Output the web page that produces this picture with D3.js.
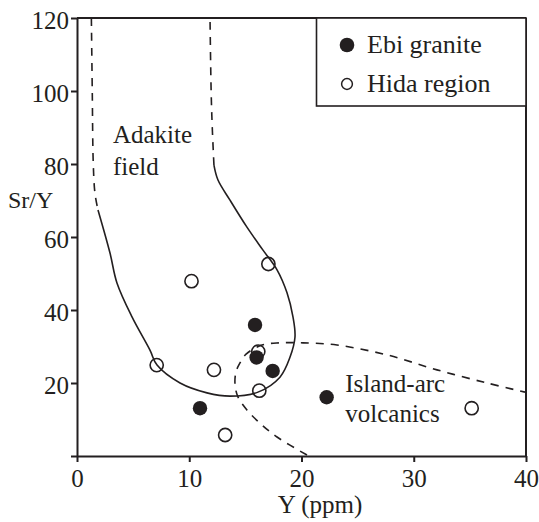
<!DOCTYPE html>
<html>
<head>
<meta charset="utf-8">
<script src="https://cdn.jsdelivr.net/npm/d3@7"></script>
<style>
  html, body { margin: 0; padding: 0; background: #fff; }
  svg { display: block; }
</style>
</head>
<body>
<svg id="chart" width="539" height="522"></svg>
<script>
// ---- data ----
const xTicks = [0, 10, 20, 30, 40];
const yTicks = [0, 20, 40, 60, 80, 100, 120];

const ebiGraniteX = [10.96, 15.86, 16.0, 17.43, 22.24];
const ebiGraniteY = [13.1, 35.9, 27.0, 23.3, 16.1];

const hidaRegionX = [7.1, 10.2, 12.2, 13.2, 17.05, 16.15, 16.24, 35.16];
const hidaRegionY = [24.9, 47.9, 23.6, 5.75, 52.6, 28.6, 17.9, 13.1];

// Adakite field boundary
const adakiteLeftDashX = [1.28, 1.36, 1.45, 1.6, 1.87];
const adakiteLeftDashY = [120, 100, 80, 72, 67.4];
const adakiteSolidX = [1.87, 2.94, 3.56, 4.9, 6.5, 7.13, 9.18, 11.58, 13.63, 16.12, 18.08, 18.98, 19.42, 19.24, 18.71, 17.82, 16.57, 15.14, 13.63, 12.56, 12.2];
const adakiteSolidY = [67.4, 55.6, 47.4, 38.1, 29.0, 24.9, 20.0, 17.3, 16.4, 17.5, 21.6, 27.1, 32.6, 38.1, 44.7, 51.0, 56.4, 62.7, 70.1, 75.6, 79.7];
const adakiteRightDashX = [12.2, 12.05, 11.95, 11.85];
const adakiteRightDashY = [79.7, 90, 100, 120];

// Island-arc volcanics boundary
const arcX = [20.49, 17.82, 16.3, 15.14, 14.34, 14.08, 14.16, 14.52, 15.06, 16.48, 18.08, 20.13, 23.16, 27.62, 32.07, 36.53, 39.91];
const arcY = [0.27, 5.2, 9.0, 12.6, 16.2, 19.5, 23.0, 25.5, 27.9, 30.4, 31.0, 31.0, 30.4, 27.7, 23.6, 20.0, 17.5];

const legendLabels = ["Ebi granite", "Hida region"];
const xTitle = "Y (ppm)";
const yTitle = "Sr/Y";
const fieldLabels = [["Adakite", "field"], ["Island-arc", "volcanics"]];
const fieldLabelPos = [[3.2, 85.8, 77.0], [23.9, 17.5, 9.3]];

// ---- drawing ----
const svg = d3.select("#chart");
const ink = "#231f20";
const serif = '"Liberation Serif", "Times New Roman", Times, serif';
const mLeft = 77, mRight = 526, mTop = 18, mBottom = 456;
const x = d3.scaleLinear().domain([0, 40]).range([mLeft, mRight]);
const y = d3.scaleLinear().domain([0, 120]).range([mBottom, mTop]);

const zip = (xs, ys) => xs.map((v, i) => [v, ys[i]]);
const line = d3.line().x(d => x(d[0])).y(d => y(d[1])).curve(d3.curveCatmullRom.alpha(0.5));

function txt(g, tx, ty, s, size, anchor) {
  return g.append("text").attr("x", tx).attr("y", ty)
    .attr("font-family", serif).style("font-family", serif)
    .attr("font-size", size).attr("fill", ink)
    .attr("text-anchor", anchor || "start").text(s);
}

// curves
const dash = "8,7";
svg.append("path").attr("d", line(zip(adakiteLeftDashX, adakiteLeftDashY)))
  .attr("fill", "none").attr("stroke", ink).attr("stroke-width", 1.6).attr("stroke-dasharray", dash);
svg.append("path").attr("d", line(zip(adakiteSolidX, adakiteSolidY)))
  .attr("fill", "none").attr("stroke", ink).attr("stroke-width", 1.6);
svg.append("path").attr("d", line(zip(adakiteRightDashX, adakiteRightDashY)))
  .attr("fill", "none").attr("stroke", ink).attr("stroke-width", 1.6).attr("stroke-dasharray", dash);
svg.append("path").attr("d", line(zip(arcX, arcY)))
  .attr("fill", "none").attr("stroke", ink).attr("stroke-width", 1.6).attr("stroke-dasharray", dash);

// points
svg.append("g").selectAll("circle").data(zip(hidaRegionX, hidaRegionY)).join("circle")
  .attr("cx", d => x(d[0])).attr("cy", d => y(d[1])).attr("r", 6.6)
  .attr("fill", "none").attr("stroke", ink).attr("stroke-width", 1.6);
svg.append("g").selectAll("circle").data(zip(ebiGraniteX, ebiGraniteY)).join("circle")
  .attr("cx", d => x(d[0])).attr("cy", d => y(d[1])).attr("r", 7.2)
  .attr("fill", ink);

// frame
svg.append("line").attr("x1", mLeft).attr("x2", mRight).attr("y1", mTop).attr("y2", mTop)
  .attr("stroke", ink).attr("stroke-width", 2);
svg.append("line").attr("x1", mRight).attr("x2", mRight).attr("y1", mTop).attr("y2", mBottom)
  .attr("stroke", ink).attr("stroke-width", 2);

// axes
const xAxis = svg.append("g").attr("transform", `translate(0,${mBottom})`)
  .call(d3.axisBottom(x).tickValues(xTicks).tickSize(6).tickPadding(7).tickSizeOuter(0));
const yAxis = svg.append("g").attr("transform", `translate(${mLeft},0)`)
  .call(d3.axisLeft(y).tickValues(yTicks).tickSize(6).tickPadding(2).tickSizeOuter(0)
    .tickFormat(d => d === 0 ? "" : d));
[xAxis, yAxis].forEach(g => {
  g.attr("font-family", serif).attr("font-size", 25);
  g.select(".domain").attr("stroke", ink).attr("stroke-width", 2);
  g.selectAll(".tick line").attr("stroke", ink).attr("stroke-width", 2);
  g.selectAll(".tick text").attr("fill", ink)
    .attr("font-family", serif).style("font-family", serif).attr("font-size", 25);
});
yAxis.selectAll(".tick text").attr("dy", "0.4em");

// axis titles
txt(svg, 320, 513, xTitle, 25, "middle");
txt(svg, 8, 208, yTitle, 24);

// field labels
fieldLabels.forEach((lines, i) => {
  const p = fieldLabelPos[i];
  txt(svg, x(p[0]), y(p[1]), lines[0], 25);
  txt(svg, x(p[0]), y(p[2]), lines[1], 25);
});

// legend
const lg = svg.append("g");
lg.append("rect").attr("x", 316.5).attr("y", mTop).attr("width", mRight - 316.5).attr("height", 88)
  .attr("fill", "#fff").attr("stroke", ink).attr("stroke-width", 1.6);
lg.append("circle").attr("cx", 347).attr("cy", 45).attr("r", 7.3).attr("fill", ink);
lg.append("circle").attr("cx", 347).attr("cy", 84).attr("r", 5.4).attr("fill", "none")
  .attr("stroke", ink).attr("stroke-width", 1.5);
txt(lg, 367, 53, legendLabels[0], 26);
txt(lg, 367, 92, legendLabels[1], 26);
</script>
</body>
</html>
